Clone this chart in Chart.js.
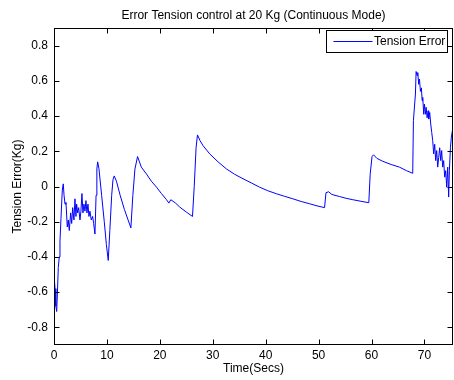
<!DOCTYPE html>
<html>
<head>
<meta charset="utf-8">
<script src="https://cdn.jsdelivr.net/npm/chart.js@4"></script>
<style>
  html, body { margin: 0; padding: 0; background: #fff; }
  #wrap { width: 454px; height: 380px; }
</style>
</head>
<body>
<div id="wrap"><canvas id="c" width="454" height="380"></canvas></div>
<script>
const chartTitle = 'Error Tension control at 20 Kg (Continuous Mode)';
const xTitle = 'Time(Secs)';
const yTitle = 'Tension Error(Kg)';
const seriesName = 'Tension Error';
const xTicks = [0, 10, 20, 30, 40, 50, 60, 70];
const yTicks = [-0.8, -0.6, -0.4, -0.2, 0, 0.2, 0.4, 0.6, 0.8];
const xMin = 0, xMax = 75.4, yMin = -0.9, yMax = 0.9;

const timeSecs = [
  0.00, 0.05, 0.20, 0.35, 0.51, 0.65, 0.81, 1.00, 1.13, 1.32, 1.57, 1.75, 1.90, 2.08, 2.26, 2.51, 2.70, 2.89, 3.15, 3.34,
  3.53, 3.77, 3.96, 4.15, 4.28, 4.47, 4.66, 4.91, 5.09, 5.28, 5.47, 5.66, 5.85, 6.04, 6.23, 6.42, 6.60, 6.79, 7.04, 7.30,
  7.49, 7.74, 7.95, 8.10, 8.25, 8.50, 9.00, 9.50, 9.90, 10.25, 10.55, 10.90, 11.15, 11.38, 11.80, 12.50, 13.30, 14.00, 14.53, 14.90,
  15.30, 15.79, 16.50, 17.49, 18.40, 19.38, 20.30, 21.26, 21.70, 22.08, 23.00, 23.77, 25.00, 26.17, 26.50, 26.85, 27.11, 27.60, 28.17, 29.43,
  31.00, 32.58, 34.10, 35.72, 37.30, 38.87, 40.40, 42.02, 43.60, 45.15, 46.70, 48.30, 49.70, 51.13, 51.40, 51.89, 52.50, 53.96, 55.20, 56.47,
  58.00, 59.49, 59.75, 60.10, 60.38, 61.00, 62.13, 63.70, 65.28, 66.60, 67.79, 67.92, 68.30, 68.43, 68.62, 68.74, 68.92, 69.06, 69.25, 69.43,
  69.57, 69.68, 69.87, 70.00, 70.19, 70.32, 70.51, 70.70, 70.81, 71.00, 71.19, 71.38, 71.57, 71.75, 71.94, 72.13, 72.32, 72.51, 72.70, 72.89,
  73.08, 73.26, 73.45, 73.64, 73.83, 74.02, 74.21, 74.40, 74.58, 74.72, 74.91, 75.09, 75.28
];
const tensionError = [
  -0.25, -0.52, -0.58, -0.68, -0.71, -0.60, -0.46, -0.40, -0.31, -0.18, -0.02, 0.015, -0.05, -0.10, -0.09, -0.23, -0.19, -0.25, -0.15, -0.21,
  -0.12, -0.19, -0.07, -0.17, -0.10, -0.15, -0.12, -0.19, -0.14, -0.04, -0.15, -0.10, -0.14, -0.08, -0.15, -0.10, -0.17, -0.14, -0.19, -0.17,
  -0.21, -0.27, -0.05, 0.10, 0.14, 0.10, -0.05, -0.20, -0.33, -0.42, -0.25, -0.05, 0.04, 0.06, 0.03, -0.05, -0.13, -0.19, -0.235, -0.05,
  0.10, 0.17, 0.11, 0.07, 0.03, -0.004, -0.04, -0.075, -0.094, -0.075, -0.095, -0.117, -0.145, -0.17, 0.00, 0.22, 0.293, 0.26, 0.232, 0.185,
  0.14, 0.10, 0.07, 0.044, 0.02, -0.004, -0.024, -0.041, -0.056, -0.07, -0.085, -0.098, -0.11, -0.12, -0.035, -0.03, -0.045, -0.057, -0.067, -0.075,
  -0.084, -0.092, 0.07, 0.17, 0.18, 0.16, 0.143, 0.125, 0.11, 0.09, 0.075, 0.374, 0.525, 0.653, 0.63, 0.647, 0.58, 0.61, 0.54, 0.56,
  0.487, 0.506, 0.41, 0.468, 0.41, 0.45, 0.39, 0.43, 0.383, 0.42, 0.355, 0.307, 0.26, 0.185, 0.24, 0.147, 0.204, 0.11, 0.166, 0.22,
  0.147, 0.204, 0.11, 0.147, 0.053, 0.09, -0.004, 0.11, -0.06, 0.09, 0.22, 0.28, 0.317
];

const FONT = '"Liberation Sans", Arial, Helvetica, sans-serif';
const FS = 12;
const points = timeSecs.map((t, i) => ({ x: t, y: tensionError[i] }));

const framePlugin = {
  id: 'frame',
  afterDraw(chart) {
    const { ctx, chartArea: a, scales } = chart;
    ctx.save();
    ctx.strokeStyle = '#000';
    ctx.lineWidth = 1;
    const L = Math.round(a.left) + 0.5, R = Math.round(a.right) - 0.5;
    const T = Math.round(a.top) + 0.5, B = Math.round(a.bottom) - 0.5;
    ctx.strokeRect(L, T, R - L, B - T);
    const tl = 5;
    ctx.beginPath();
    xTicks.forEach(v => {
      const px = Math.round(scales.x.getPixelForValue(v)) + 0.5;
      ctx.moveTo(px, B); ctx.lineTo(px, B - tl);
      ctx.moveTo(px, T); ctx.lineTo(px, T + tl);
    });
    yTicks.forEach(v => {
      const py = Math.round(scales.y.getPixelForValue(v)) + 0.5;
      ctx.moveTo(L, py); ctx.lineTo(L + tl, py);
      ctx.moveTo(R, py); ctx.lineTo(R - tl, py);
    });
    ctx.stroke();
    // legend box
    const bw = 121, bh = 22;
    const bx = Math.round(a.right) - 6 - bw + 0.5;
    const by = Math.round(a.top) + 2 + 0.5;
    ctx.fillStyle = '#fff';
    ctx.fillRect(bx, by, bw, bh);
    ctx.strokeRect(bx, by, bw, bh);
    ctx.strokeStyle = '#0000ff';
    ctx.beginPath();
    ctx.moveTo(bx + 7, by + 11);
    ctx.lineTo(bx + 46, by + 11);
    ctx.stroke();
    ctx.fillStyle = '#000';
    ctx.font = FS + 'px ' + FONT;
    ctx.textBaseline = 'middle';
    ctx.textAlign = 'left';
    ctx.fillText(seriesName, bx + 47.5, by + 11.5);
    ctx.restore();
  }
};

new Chart(document.getElementById('c'), {
  type: 'line',
  data: {
    datasets: [{
      label: seriesName,
      data: points,
      borderColor: '#0000ff',
      borderWidth: 1,
      pointRadius: 0,
      tension: 0,
      fill: false
    }]
  },
  options: {
    responsive: false,
    animation: false,
    events: [],
    layout: { padding: { left: 0, right: 1, top: 0, bottom: 0 } },
    plugins: {
      legend: { display: false },
      tooltip: { enabled: false },
      title: {
        display: true,
        text: chartTitle,
        fullSize: false,
        color: '#000',
        font: { family: FONT, size: FS, weight: 'normal' },
        padding: { top: 8.3, bottom: 5.3 }
      }
    },
    scales: {
      x: {
        type: 'linear',
        min: xMin, max: xMax,
        grid: { display: false, drawTicks: false },
        border: { display: false },
        afterBuildTicks: s => { s.ticks = xTicks.map(v => ({ value: v })); },
        afterFit: s => { s.height = 35; },
        ticks: {
          color: '#000', padding: 3, maxRotation: 0, autoSkip: false,
          font: { family: FONT, size: FS },
          callback: v => String(v)
        },
        title: {
          display: true, text: xTitle, color: '#000',
          font: { family: FONT, size: FS },
          padding: { top: 0, bottom: 3.8 }
        }
      },
      y: {
        type: 'linear',
        min: yMin, max: yMax,
        grid: { display: false, drawTicks: false },
        border: { display: false },
        afterBuildTicks: s => { s.ticks = yTicks.map(v => ({ value: v })); },
        afterFit: s => { s.width = 54; },
        ticks: {
          color: '#000', padding: 6, autoSkip: false,
          font: { family: FONT, size: FS },
          callback: v => (Math.abs(v) < 1e-9 ? '0' : v.toFixed(1))
        },
        title: {
          display: true, text: yTitle, color: '#000',
          font: { family: FONT, size: FS },
          padding: { top: 10, bottom: 0 }
        }
      }
    }
  },
  plugins: [framePlugin]
});
</script>
</body>
</html>
